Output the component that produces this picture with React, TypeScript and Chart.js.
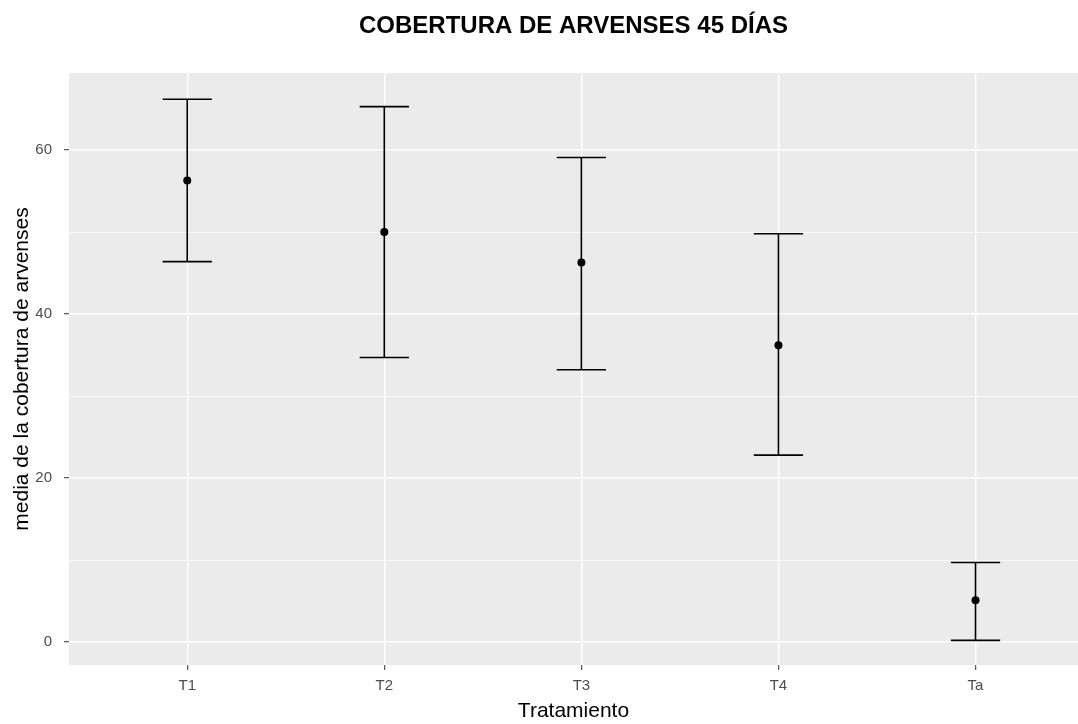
import React, { useEffect, useRef } from "react";
import { Chart, registerables } from "chart.js";

Chart.register(...registerables);

const categories = ["T1", "T2", "T3", "T4", "Ta"];
const means = [56.3, 50.0, 46.3, 36.2, 5.1];
const upper = [66.2, 65.3, 59.1, 49.8, 9.7];
const lower = [46.4, 34.7, 33.2, 22.8, 0.2];
const yMajorTicks = [0, 20, 40, 60];
const yMinorTicks = [10, 30, 50];

const FONT = "'Liberation Sans', Arial, sans-serif";

const panelBg = {
  id: "panelBg",
  beforeDraw(chart: any) {
    const { ctx, chartArea } = chart;
    ctx.save();
    ctx.fillStyle = "#EBEBEB";
    ctx.fillRect(chartArea.left, chartArea.top, chartArea.right - chartArea.left, chartArea.bottom - chartArea.top);
    ctx.restore();
  },
};

const errorBars = {
  id: "errorBars",
  beforeDatasetsDraw(chart: any) {
    const { ctx } = chart;
    const xs = chart.scales.x;
    const ys = chart.scales.y;
    const capHalf = 0.125;
    ctx.save();
    ctx.strokeStyle = "#000000";
    ctx.lineWidth = 1.6;
    categories.forEach((_, i) => {
      const xv = i + 1;
      const x = xs.getPixelForValue(xv);
      const xl = xs.getPixelForValue(xv - capHalf);
      const xr = xs.getPixelForValue(xv + capHalf);
      const yu = ys.getPixelForValue(upper[i]);
      const yl = ys.getPixelForValue(lower[i]);
      ctx.beginPath();
      ctx.moveTo(x, yu);
      ctx.lineTo(x, yl);
      ctx.moveTo(xl, yu);
      ctx.lineTo(xr, yu);
      ctx.moveTo(xl, yl);
      ctx.lineTo(xr, yl);
      ctx.stroke();
    });
    ctx.restore();
  },
};

export default function App() {
  const ref = useRef<HTMLCanvasElement | null>(null);

  useEffect(() => {
    if (!ref.current) return;
    const chart = new Chart(ref.current, {
      type: "scatter",
      data: {
        datasets: [
          {
            data: means.map((m, i) => ({ x: i + 1, y: m })),
            backgroundColor: "#000000",
            borderWidth: 0,
            pointRadius: 4,
            pointHoverRadius: 4,
          },
        ],
      },
      options: {
        responsive: false,
        animation: false,
        layout: { autoPadding: false, padding: 0 },
        plugins: {
          legend: { display: false },
          tooltip: { enabled: false },
          title: {
            display: true,
            text: "COBERTURA DE ARVENSES 45 DÍAS",
            fullSize: false,
            color: "#000000",
            font: { family: FONT, size: 24, weight: "bold" },
            padding: { top: 11.6, bottom: 32.6 },
          },
        },
        scales: {
          x: {
            type: "linear",
            min: 0.4,
            max: 5.52,
            afterBuildTicks: (scale: any) => {
              scale.ticks = categories.map((_, i) => ({ value: i + 1 }));
            },
            afterFit: (scale: any) => {
              scale.height = 59;
            },
            border: { display: false },
            grid: {
              color: "#FFFFFF",
              lineWidth: 1.4,
              drawTicks: true,
              tickLength: 5,
              tickColor: "#333333",
              tickWidth: 1,
            },
            ticks: {
              color: "#4D4D4D",
              font: { family: FONT, size: 15 },
              padding: 7,
              maxRotation: 0,
              autoSkip: false,
              callback: (v: any) => categories[Math.round(v) - 1] ?? "",
            },
            title: {
              display: true,
              text: "Tratamiento",
              color: "#000000",
              font: { family: FONT, size: 21 },
              padding: { top: 0, bottom: 0 },
            },
          },
          y: {
            type: "linear",
            min: -2.8,
            max: 69.4,
            afterBuildTicks: (scale: any) => {
              scale.ticks = [...yMajorTicks, ...yMinorTicks].sort((a, b) => a - b).map((v) => ({ value: v }));
            },
            afterFit: (scale: any) => {
              scale.width = 69;
            },
            border: { display: false },
            grid: {
              color: "#FFFFFF",
              lineWidth: (c: any) => (yMajorTicks.includes(c.tick?.value) ? 1.4 : 0.7),
              drawTicks: true,
              tickLength: 5,
              tickColor: (c: any) => (yMajorTicks.includes(c.tick?.value) ? "#333333" : "rgba(0,0,0,0)"),
              tickWidth: 1,
            },
            ticks: {
              color: "#4D4D4D",
              font: { family: FONT, size: 15 },
              padding: 12,
              autoSkip: false,
              callback: (v: any) => (yMajorTicks.includes(v) ? String(v) : ""),
            },
            title: {
              display: true,
              text: "media de la cobertura de arvenses",
              color: "#000000",
              font: { family: FONT, size: 21 },
              padding: { top: 10, bottom: 0 },
            },
          },
        },
      },
      plugins: [panelBg, errorBars],
    });
    return () => chart.destroy();
  }, []);

  return (
    <div style={{ position: "absolute", left: 0, top: 0, width: 1078, height: 724, background: "#FFFFFF" }}>
      <canvas ref={ref} width={1078} height={724} style={{ display: "block" }} />
    </div>
  );
}
